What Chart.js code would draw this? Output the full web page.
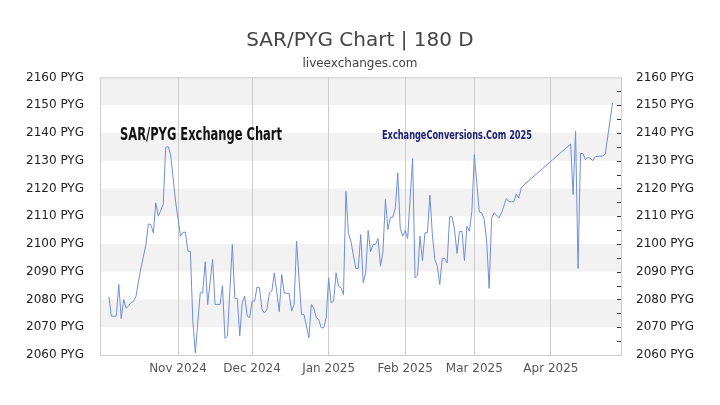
<!DOCTYPE html>
<html>
<head>
<meta charset="utf-8">
<title>SAR/PYG Chart | 180 D</title>
<script src="https://cdn.jsdelivr.net/npm/chart.js@4.4.1/dist/chart.umd.min.js"></script>
<style>
    html, body { margin: 0; padding: 0; background: #fff; }
    #wrap { width: 720px; height: 405px; }
</style>
</head>
<body>
<div id="wrap"><canvas id="rateChart" width="720" height="405"></canvas></div>
<script>
// Data: days counted from 1 Oct 2024, SAR -> PYG rate
const dayOffsets = [
    3, 4, 6, 7, 8, 9, 10, 12, 13, 14, 15, 16, 18, 19, 20, 21, 22, 23, 25, 26,
    27, 28, 30, 32, 33, 34, 35, 36, 37, 38, 40, 41, 42, 43, 45, 46, 48, 49, 50, 51,
    53, 54, 55, 56, 57, 58, 59, 60, 61, 62, 63, 64, 65, 66, 67, 68, 69, 70, 72, 73,
    74, 76, 77, 78, 79, 81, 82, 84, 85, 86, 87, 88, 89, 90, 91, 92, 93, 94, 95, 96,
    97, 98, 99, 100, 101, 103, 104, 105, 106, 107, 108, 109, 110, 111, 112, 113, 114, 115, 116, 117,
    118, 119, 120, 121, 122, 123, 124, 126, 127, 128, 129, 130, 131, 132, 133, 134, 135, 136, 137, 138,
    139, 140, 141, 142, 143, 144, 145, 146, 147, 148, 149, 150, 151, 153, 154, 155, 156, 157, 158, 159,
    160, 161, 162, 164, 165, 166, 167, 168, 169, 170, 171, 190, 191, 192, 193, 194, 195, 196, 197, 198,
    199, 200, 201, 203, 204, 207
];
const rates = [
    2081.0, 2074.0, 2074.0, 2085.4, 2073.1, 2080.0, 2076.8, 2078.8, 2079.4, 2081.2, 2086.6, 2091.4, 2099.8, 2107.2, 2107.0, 2104.0, 2114.8, 2110.0, 2114.2, 2134.8,
    2135.1, 2132.2, 2115.4, 2102.8, 2104.2, 2104.2, 2097.4, 2097.4, 2072.2, 2060.8, 2082.4, 2082.4, 2093.6, 2078.2, 2094.4, 2078.2, 2078.2, 2085.0, 2066.0, 2066.8,
    2099.8, 2080.4, 2080.4, 2066.8, 2078.8, 2081.2, 2074.0, 2073.4, 2079.4, 2079.4, 2084.5, 2084.2, 2076.4, 2075.2, 2076.4, 2082.4, 2083.0, 2089.6, 2075.6, 2089.0,
    2082.4, 2082.1, 2075.8, 2078.2, 2101.0, 2074.6, 2074.6, 2066.2, 2078.2, 2076.8, 2073.4, 2072.8, 2069.8, 2069.8, 2073.4, 2087.8, 2078.8, 2079.4, 2089.6, 2084.8,
    2084.2, 2081.7, 2119.0, 2104.0, 2101.0, 2091.2, 2091.2, 2103.4, 2086.0, 2089.6, 2104.8, 2097.2, 2099.8, 2099.8, 2102.0, 2092.0, 2097.4, 2116.0, 2105.2, 2109.6,
    2109.6, 2113.0, 2125.6, 2105.6, 2102.8, 2104.8, 2102.0, 2130.8, 2087.8, 2088.8, 2102.8, 2094.0, 2104.0, 2104.0, 2117.6, 2103.4, 2094.4, 2092.0, 2085.4, 2094.8,
    2094.8, 2093.2, 2109.8, 2109.8, 2105.0, 2096.6, 2104.5, 2104.5, 2094.0, 2106.4, 2104.6, 2111.8, 2132.2, 2111.6, 2111.2, 2108.8, 2101.0, 2084.0, 2109.2, 2111.2,
    2110.4, 2109.4, 2111.2, 2116.4, 2115.2, 2115.2, 2115.2, 2118.0, 2116.6, 2120.2, 2121.2, 2136.0, 2117.8, 2140.6, 2091.2, 2132.6, 2132.6, 2130.4, 2131.2, 2130.8,
    2130.0, 2131.5, 2131.5, 2131.7, 2132.4, 2150.8
];

// Month ticks (day offsets of the 1st of each month)
const monthStarts = [31, 61, 92, 123, 151, 182];
const monthLabels = ['Nov 2024', 'Dec 2024', 'Jan 2025', 'Feb 2025', 'Mar 2025', 'Apr 2025'];

const yMin = 2060;
const yMax = 2160;
const yStep = 10;

// Striped background, frame, minor ticks and watermark texts
const decorPlugin = {
    id: 'decor',
    beforeDraw(chart) {
        const { ctx, chartArea: a } = chart;
        const y = chart.scales.y;
        ctx.save();
        ctx.fillStyle = '#fff';
        ctx.fillRect(0, 0, chart.width, chart.height);
        ctx.fillStyle = '#f2f2f2';
        for (let v = yMin + yStep; v < yMax; v += yStep * 2) {
            const top = y.getPixelForValue(v + yStep);
            const bot = y.getPixelForValue(v);
            ctx.fillRect(a.left, top, a.right - a.left, bot - top);
        }
        ctx.restore();
    },
    beforeDatasetsDraw(chart) {
        const { ctx, chartArea: a } = chart;
        ctx.save();
        // top frame line and right axis line
        ctx.strokeStyle = '#ccc';
        ctx.lineWidth = 1;
        ctx.beginPath();
        ctx.moveTo(a.left, a.top + 0.5);
        ctx.lineTo(a.right, a.top + 0.5);
        ctx.moveTo(a.right + 0.5, a.top);
        ctx.lineTo(a.right + 0.5, a.bottom);
        ctx.stroke();

        // minor ticks inside the right axis
        const y = chart.scales.y;
        ctx.strokeStyle = '#333';
        ctx.beginPath();
        for (let v = yMin + 5; v < yMax; v += 5) {
            const py = Math.round(y.getPixelForValue(v)) + 0.5;
            ctx.moveTo(a.right - 4, py);
            ctx.lineTo(a.right, py);
        }
        ctx.stroke();

        // watermark texts
        ctx.textBaseline = 'middle';
        ctx.textAlign = 'left';
        drawFitted(ctx, 'SAR/PYG Exchange Chart', 120, 135, 162,
            'bold 18px "Liberation Sans Narrow", "DejaVu Sans Condensed", sans-serif', '#111');
        drawFitted(ctx, 'ExchangeConversions.Com 2025', 382, 136, 150,
            'bold 13px "Liberation Sans Narrow", "DejaVu Sans Condensed", sans-serif', '#1c2175');
        ctx.restore();
    }
};

function drawFitted(ctx, text, x, y, width, font, color) {
    ctx.save();
    ctx.font = font;
    ctx.fillStyle = color;
    const w = ctx.measureText(text).width;
    ctx.translate(x, y);
    ctx.scale(width / w, 1);
    ctx.fillText(text, 0, 0);
    ctx.restore();
}

const ctx = document.getElementById('rateChart');
new Chart(ctx, {
    type: 'line',
    data: {
        datasets: [{
            label: 'SAR/PYG',
            data: dayOffsets.map((d, i) => ({ x: d, y: rates[i] })),
            borderColor: '#6f8fdc',
            borderWidth: 1,
            pointRadius: 0,
            tension: 0,
            fill: false,
            yAxisID: 'y'
        }]
    },
    options: {
        responsive: false,
        animation: false,
        devicePixelRatio: 1,
        layout: { padding: 0 },
        plugins: {
            legend: { display: false },
            tooltip: { enabled: false },
            title: {
                display: true,
                text: 'SAR/PYG Chart | 180 D',
                color: '#444',
                font: { family: 'DejaVu Sans', size: 20, weight: 'normal' },
                padding: { top: 29, bottom: 4 }
            },
            subtitle: {
                display: true,
                text: 'liveexchanges.com',
                color: '#444',
                font: { family: 'DejaVu Sans', size: 12 },
                padding: { top: 0, bottom: 6 }
            }
        },
        scales: {
            x: {
                type: 'linear',
                min: -0.6,
                max: 210.4,
                afterBuildTicks: scale => {
                    scale.ticks = monthStarts.map(v => ({ value: v }));
                },
                afterFit: scale => { scale.height = 50; },
                grid: { color: '#ccc', drawTicks: false },
                border: { color: '#ccc' },
                ticks: {
                    autoSkip: false,
                    maxRotation: 0,
                    padding: 7,
                    color: '#555',
                    font: { family: 'DejaVu Sans', size: 12 },
                    callback: value => monthLabels[monthStarts.indexOf(value)]
                }
            },
            y: {
                position: 'left',
                min: yMin,
                max: yMax,
                afterFit: scale => { scale.width = 100; },
                grid: { display: false },
                border: { color: '#ccc' },
                ticks: {
                    stepSize: yStep,
                    padding: 8,
                    color: '#222',
                    font: { family: 'DejaVu Sans', size: 12 },
                    callback: value => value + ' PYG'
                }
            },
            y2: {
                position: 'right',
                min: yMin,
                max: yMax,
                afterFit: scale => { scale.width = 99; },
                grid: { display: false },
                border: { display: false },
                ticks: {
                    stepSize: yStep,
                    padding: 7,
                    color: '#222',
                    font: { family: 'DejaVu Sans', size: 12 },
                    callback: value => value + ' PYG'
                }
            }
        }
    },
    plugins: [decorPlugin]
});
</script>
</body>
</html>
